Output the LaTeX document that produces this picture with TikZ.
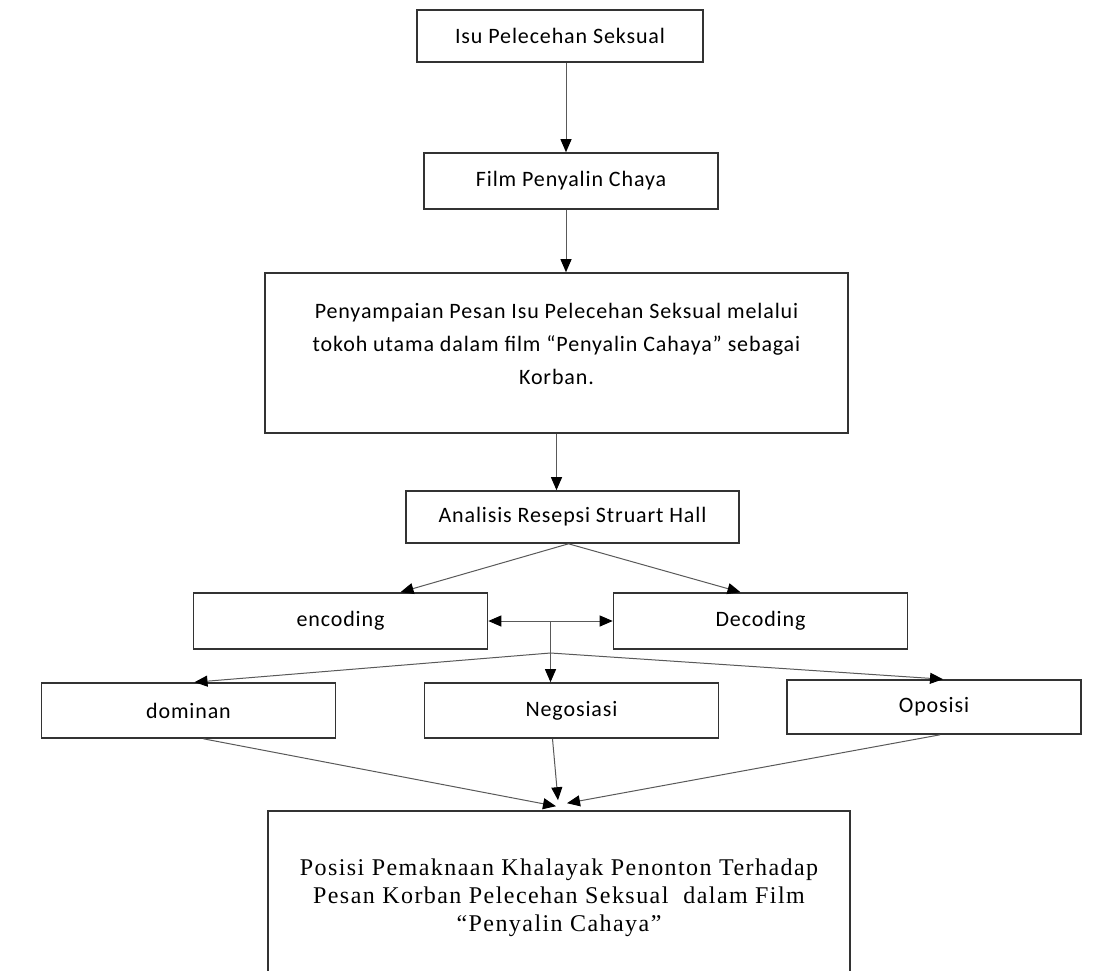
\documentclass[tikz,border=0pt]{standalone}
\usepackage{fontspec}
\setmainfont{Liberation Serif}
\newfontfamily\calib{Carlito}[LetterSpace=4]
\newfontfamily\tnr{Liberation Serif}[LetterSpace=6]
\usepackage{tikz}
\usetikzlibrary{calc, positioning, arrows.meta}

\begin{document}
\begin{tikzpicture}[x=1pt, y=-1pt,
  >={Triangle[length=13pt, width=11pt, color=black]}, font=\calib\fontsize{22}{33}\selectfont,
  kotak/.style={draw=black!80, line width=1.6pt, align=center, inner sep=0pt},
  lebar/.style={kotak, minimum width=294pt, minimum height=55pt},
  panah/.style={->, draw=black!65, line width=1pt}]
  \useasboundingbox (0,0) rectangle (1097,971);
  % alur atas
  \node[kotak, minimum width=286pt, minimum height=52pt] (isu) at (560,36) {Isu Pelecehan Seksual};
  \node[lebar, minimum height=56pt] (film) at (571,181) {Film Penyalin Chaya};
  \node[kotak, minimum width=583pt, minimum height=160pt, text depth=18pt] (pesan) at (556.5,353)
    {Penyampaian Pesan Isu Pelecehan Seksual melalui\\tokoh utama dalam film “Penyalin Cahaya” sebagai\\Korban.};
  \node[kotak, minimum width=333pt, minimum height=52pt] (analisis) at (572.5,517) {Analisis Resepsi Struart Hall};
  % encoding / decoding
  \node[lebar, minimum height=56pt] (encoding) at (340.5,621) {encoding};
  \node[lebar, minimum height=56pt] (decoding) at (760.5,621) {Decoding};
  % posisi pembacaan
  \node[lebar] (dominan) at (188.5,710.5) {dominan};
  \node[lebar] (negosiasi) at (571.5,710.5) {Negosiasi};
  \node[lebar, minimum height=54pt] (oposisi) at (934,707) {Oposisi};
  % kotak hasil
  \node[kotak, minimum width=582pt, minimum height=174pt, font=\tnr\fontsize{24}{28}\selectfont] (hasil) at (559,898)
    {Posisi Pemaknaan Khalayak Penonton Terhadap\\Pesan Korban Pelecehan Seksual\ \ dalam Film\\“Penyalin Cahaya”};
  % panah alur utama
  \draw[panah] ([xshift=6pt]isu.south) -- ([xshift=6pt]isu.south |- film.north);
  \draw[panah] ([xshift=-5pt]film.south) -- ([xshift=-5pt]film.south |- pesan.north);
  \draw[panah] (pesan.south) -- (pesan.south |- analisis.north);
  \draw[panah] ([xshift=-4pt]analisis.south) -- ([xshift=60pt]encoding.north);
  \draw[panah] ([xshift=-4pt]analisis.south) -- ([xshift=-20pt]decoding.north);
  \draw[panah, <->] (encoding.east) -- (decoding.west);
  % cabang ke tiga posisi
  \coordinate (tengah) at ($(encoding.east)!0.5!(decoding.west)$);
  \coordinate (cabang) at ($(tengah)+(0,32)$);
  \draw[panah] (tengah) -- (tengah |- negosiasi.north);
  \draw[panah] (cabang) -- ([xshift=6pt]dominan.north);
  \draw[panah] (cabang) -- ([xshift=9pt]oposisi.north);
  % menuju kotak hasil
  \draw[panah] ([xshift=15pt]dominan.south) -- ([xshift=-3pt,yshift=4pt]hasil.north);
  \draw[panah] ([xshift=-19pt]negosiasi.south) -- ([xshift=-1pt,yshift=10pt]hasil.north);
  \draw[panah] ([xshift=6pt]oposisi.south) -- ([xshift=8pt,yshift=7pt]hasil.north);
\end{tikzpicture}
\end{document}
